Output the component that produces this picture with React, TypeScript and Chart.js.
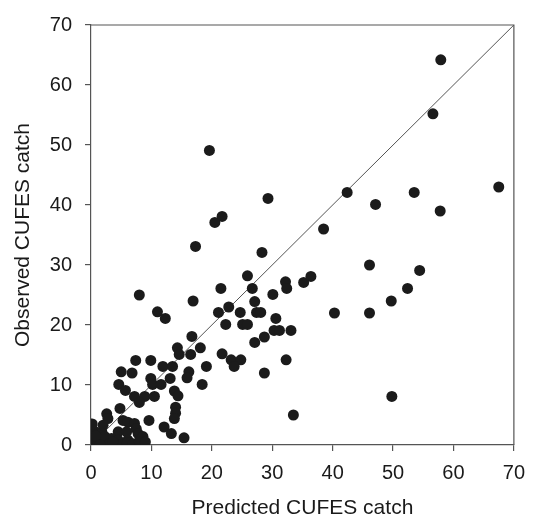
import React, { useEffect, useRef } from "react";
import { Chart, registerables } from "chart.js";

Chart.register(...registerables);

// Predicted (x) and observed (y) CUFES catch
const predicted: number[] = [
  57.9, 56.6, 67.5, 42.4, 53.5, 47.1, 57.8, 38.5, 46.1, 54.4, 52.4, 49.7, 40.3, 46.1, 49.8, 33.5,
  19.6, 29.3, 21.7, 20.5, 17.3, 28.3, 25.9, 21.5, 26.7, 32.2, 32.4, 35.2, 36.4, 30.1, 27.1, 22.8,
  21.1, 24.7, 27.4, 28.1, 22.3, 25.1, 25.9, 30.6, 30.3, 31.2, 33.1, 28.7, 27.1, 21.7, 23.2, 24.8,
  23.7, 32.3, 19.1, 28.7,
  8.0, 11.0, 12.3, 16.9, 16.7, 14.3, 14.6, 16.5, 18.1, 7.4, 9.9, 11.9, 13.5, 5.0, 6.8, 16.2,
  15.9, 9.9, 10.2, 13.1, 11.6, 18.4, 4.6, 5.7, 13.8, 14.4, 7.2, 8.9, 10.5, 8.0,
  14.0, 14.0, 13.8, 4.8, 2.6, 2.8, 9.6, 12.1, 13.3, 15.4, 5.3, 6.1, 7.2, 7.5, 4.5, 5.9,
  7.8, 8.6, 3.4, 4.5, 6.1, 0.1, 0.7, 0.4, 1.2, 2.3, 1.8, 2.3, 0.0, 0.5, 1.0, 0.3,
  0.2, 0.8, 3.0, 4.0, 5.0, 6.0, 7.0, 8.0, 9.0, 1.5, 3.6, 2.0
];
const observed: number[] = [
  64.2, 55.2, 43.0, 42.1, 42.1, 40.1, 39.0, 36.0, 30.0, 29.1, 26.1, 24.0, 22.0, 22.0, 8.1, 5.0,
  49.1, 41.1, 38.1, 37.1, 33.1, 32.1, 28.2, 26.1, 26.1, 27.2, 26.1, 27.1, 28.1, 25.1, 23.9, 23.0,
  22.1, 22.1, 22.1, 22.1, 20.1, 20.1, 20.1, 21.1, 19.1, 19.1, 19.1, 18.0, 17.1, 15.2, 14.2, 14.2,
  13.1, 14.2, 13.1, 12.0,
  25.0, 22.2, 21.1, 24.0, 18.1, 16.2, 15.1, 15.1, 16.2, 14.1, 14.1, 13.1, 13.1, 12.2, 12.0, 12.2,
  11.2, 11.1, 10.1, 11.1, 10.1, 10.1, 10.1, 9.1, 9.0, 8.2, 8.1, 8.1, 8.1, 7.1,
  6.3, 5.3, 4.4, 6.1, 5.2, 4.4, 4.1, 3.0, 1.9, 1.2, 4.1, 3.8, 3.6, 2.7, 2.2, 2.2,
  1.9, 1.4, 1.1, 0.8, 0.8, 3.0, 2.2, 1.1, 0.3, 0.0, 2.2, 1.4, 0.0, 0.5, 0.0, 1.8,
  3.5, 1.5, 0.2, 0.3, 0.1, 0.4, 0.2, 0.6, 0.5, 0.0, 0.5, 3.3
];
const xTicks: number[] = [0, 10, 20, 30, 40, 50, 60, 70];
const yTicks: number[] = [0, 10, 20, 30, 40, 50, 60, 70];
const identityLine: number[] = [0, 70];
const xTitle = "Predicted CUFES catch";
const yTitle = "Observed CUFES catch";

const FONT = "'Liberation Sans', Arial, sans-serif";

const frame = {
  id: "frame",
  afterDatasetsDraw(chart: any) {
    const { ctx, chartArea } = chart;
    ctx.save();
    ctx.strokeStyle = "#555";
    ctx.lineWidth = 1.2;
    ctx.beginPath();
    ctx.moveTo(chartArea.left, chartArea.top);
    ctx.lineTo(chartArea.right, chartArea.top);
    ctx.lineTo(chartArea.right, chartArea.bottom);
    ctx.stroke();
    ctx.restore();
  },
};

export default function App() {
  const ref = useRef<HTMLCanvasElement | null>(null);
  useEffect(() => {
    if (!ref.current) return;
    const points = predicted.map((x, i) => ({ x, y: observed[i] }));
    const line = identityLine.map((v) => ({ x: v, y: v }));
    const chart = new Chart(ref.current, {
      type: "scatter",
      data: {
        datasets: [
          {
            data: line,
            showLine: true,
            borderColor: "#555",
            borderWidth: 1,
            pointRadius: 0,
            order: 2,
          } as any,
          {
            data: points,
            backgroundColor: "#1b1b1b",
            borderColor: "#1b1b1b",
            borderWidth: 0,
            pointRadius: 5.5,
            order: 1,
          },
        ],
      },
      options: {
        animation: false,
        responsive: false,
        layout: { padding: { top: 19, right: 17, left: 0, bottom: 0 } },
        plugins: { legend: { display: false }, tooltip: { enabled: false } },
        scales: {
          x: {
            type: "linear",
            min: 0,
            max: 70,
            afterFit: (s: any) => {
              s.height = 79;
            },
            afterBuildTicks: (s: any) => {
              s.ticks = xTicks.map((v) => ({ value: v }));
            },
            ticks: { font: { family: FONT, size: 20 }, color: "#1a1a1a", padding: 10, maxRotation: 0 },
            grid: { drawOnChartArea: false, drawTicks: true, tickLength: 6, color: "#555", lineWidth: 1.2 },
            border: { display: true, color: "#555", width: 1.2 },
            title: {
              display: true,
              text: xTitle,
              font: { family: FONT, size: 21 },
              color: "#1a1a1a",
              padding: { top: 0, bottom: 3 },
            },
          },
          y: {
            type: "linear",
            min: 0,
            max: 70,
            afterFit: (s: any) => {
              s.width = 91;
            },
            afterBuildTicks: (s: any) => {
              s.ticks = yTicks.map((v) => ({ value: v }));
            },
            ticks: { font: { family: FONT, size: 20 }, color: "#1a1a1a", padding: 13 },
            grid: { drawOnChartArea: false, drawTicks: true, tickLength: 6, color: "#555", lineWidth: 1.2 },
            border: { display: true, color: "#555", width: 1.2 },
            title: {
              display: true,
              text: yTitle,
              font: { family: FONT, size: 21 },
              color: "#1a1a1a",
              padding: { top: 11, bottom: 0 },
            },
          },
        },
      },
      plugins: [frame],
    });
    return () => chart.destroy();
  }, []);
  return (
    <div style={{ position: "absolute", left: 0, top: 0, width: 535, height: 524, background: "#fff" }}>
      <canvas ref={ref} width={535} height={524} />
    </div>
  );
}
